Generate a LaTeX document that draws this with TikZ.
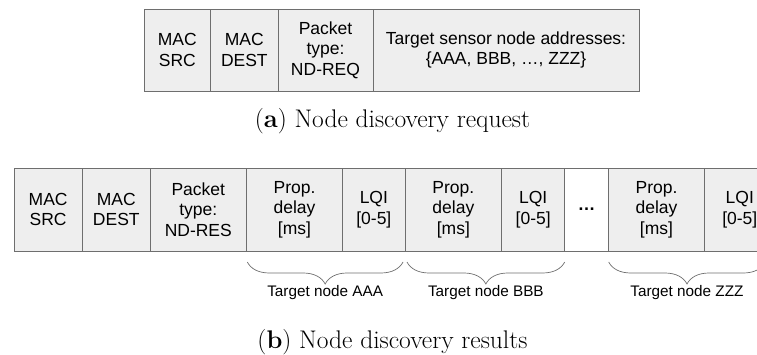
\documentclass[tikz,border=0pt]{standalone}
\usepackage{fontspec}
\setsansfont{Liberation Sans}
\usetikzlibrary{positioning, calc, decorations.pathreplacing}
\definecolor{cellgray}{HTML}{EEEEEE}
\definecolor{linegray}{HTML}{6E6E6E}

\tikzset{
  field/.style={draw=linegray, fill=cellgray, line width=0.9pt, outer sep=0pt,
    inner sep=0pt, align=center, font=\sffamily\fontsize{17.5}{20.5}\selectfont},
  topfield/.style={field, minimum height=82pt},
  botfield/.style={field, minimum height=83pt},
  gapfield/.style={botfield, fill=white},
  grouping/.style={decorate, decoration={brace, mirror, amplitude=22pt},
    draw=linegray, line width=0.7pt},
  grouplabel/.style={font=\sffamily\fontsize{15.3}{18}\selectfont, inner sep=0pt},
  caption/.style={font=\fontsize{25.5}{28}\selectfont, inner sep=0pt}
}

\begin{document}
\begin{tikzpicture}[x=1pt, y=-1pt]
  \useasboundingbox (0,0) rectangle (757,355);
  \clip (0,0) rectangle (757,355);

  % (a) request frame
  \node[topfield, minimum width=66.7pt, anchor=north west] (rqsrc) at (144,9) {MAC\\SRC};
  \node[topfield, minimum width=67.3pt, right=0pt of rqsrc] (rqdest) {MAC\\DEST};
  \node[topfield, minimum width=95pt, right=0pt of rqdest] (rqtype) {Packet\\type:\\ND-REQ};
  \node[topfield, minimum width=266pt, right=0pt of rqtype] (rqaddr) {Target sensor node addresses:\\\{AAA, BBB, …, ZZZ\}};
  \node[caption] (capa) at (392.5,121) {(\textbf{a}) Node discovery request};

  % (b) results frame
  \node[botfield, minimum width=68.3pt, anchor=north west] (rssrc) at (14,168) {MAC\\SRC};
  \node[botfield, minimum width=68pt, right=0pt of rssrc] (rsdest) {MAC\\DEST};
  \node[botfield, minimum width=96pt, right=0pt of rsdest] (rstype) {Packet\\type:\\ND-RES};
  \node[botfield, minimum width=96.4pt, right=0pt of rstype] (delaya) {Prop.\\delay\\{[ms]}};
  \node[botfield, minimum width=62.3pt, right=0pt of delaya] (lqia) {LQI\\{[0-5]}};
  \node[botfield, minimum width=96.7pt, right=0pt of lqia] (delayb) {Prop.\\delay\\{[ms]}};
  \node[botfield, minimum width=63pt, right=0pt of delayb] (lqib) {LQI\\{[0-5]}};
  \node[gapfield, minimum width=44pt, right=0pt of lqib] (more) {\textbf{…}};
  \node[botfield, minimum width=95.6pt, right=0pt of more] (delayz) {Prop.\\delay\\{[ms]}};
  \node[botfield, minimum width=71pt, right=0pt of delayz] (lqiz) {LQI\\{[0-5]}};

  % braces under each target node pair
  \draw[grouping] ([shift={(1pt,-11pt)}]delaya.south west) -- ([shift={(-2pt,-11pt)}]lqia.south east)
    node[midway, below=23pt, grouplabel] (tgta) {Target node AAA};
  \draw[grouping] ([shift={(2pt,-11pt)}]delayb.south west) -- ([shift={(0pt,-11pt)}]lqib.south east)
    node[midway, below=23pt, grouplabel] (tgtb) {Target node BBB};
  \draw[grouping] ([shift={(0pt,-11pt)}]delayz.south west) -- ([shift={(-10pt,-11pt)}]lqiz.south east)
    node[midway, below=23pt, grouplabel] (tgtz) {Target node ZZZ};

  \node[caption] (capb) at (392.5,342) {(\textbf{b}) Node discovery results};
\end{tikzpicture}
\end{document}
